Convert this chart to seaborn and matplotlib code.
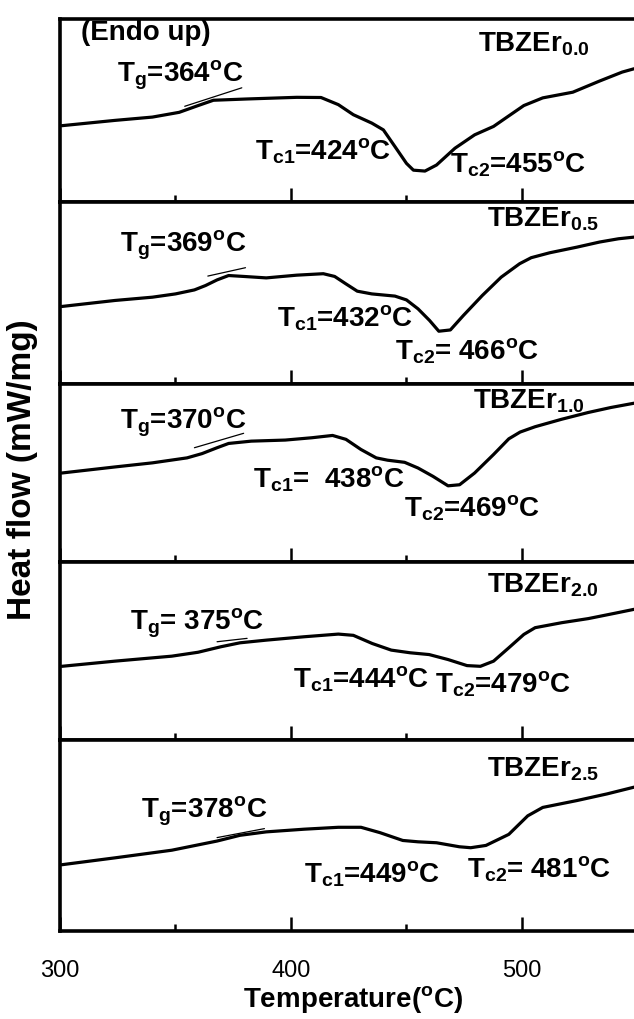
import numpy as np
import pandas as pd
import matplotlib
matplotlib.use("Agg")
import matplotlib.pyplot as plt
import seaborn as sns
from matplotlib.ticker import MultipleLocator

# ---------------- data ----------------
samples = ["0.0", "0.5", "1.0", "2.0", "2.5"]

temp_00 = [300.8, 323.8, 340, 351.6, 359.8, 366.4, 381, 402.5, 413, 420.5, 427, 435, 440, 445, 450, 453, 458, 463, 471, 479.5, 487.7, 494, 500.8, 509, 522, 533.6, 543.4, 548.5]
hf_00 = [41.7, 44.6, 46.4, 49.0, 52.7, 55.6, 56.3, 57.2, 57.1, 53.2, 47.7, 43.1, 39.4, 30.3, 21.1, 17.4, 16.9, 20.2, 29.4, 36.7, 41.3, 46.8, 52.7, 56.9, 60.0, 66.1, 71.0, 72.8]

temp_05 = [300.8, 323.8, 340, 350, 358.2, 363, 368, 373, 379.5, 389.3, 402.5, 414, 418.9, 423.8, 428.7, 435, 445, 450, 455, 460, 464, 469, 474.6, 482.8, 491, 499, 504, 512, 523.8, 533.6, 541.8, 548.5]
hf_05 = [42.6, 45.9, 47.7, 49.5, 51.7, 54.1, 57.2, 59.6, 59.1, 58.3, 59.8, 60.6, 59.1, 55.0, 51.0, 49.5, 48.3, 46.2, 41.3, 34.9, 29.0, 29.7, 37.6, 48.6, 58.7, 66.1, 69.4, 72.1, 75.2, 78.0, 79.8, 80.7]

temp_10 = [300.8, 323.8, 340, 355, 361.5, 368, 373, 382.8, 397.5, 409, 418, 423.8, 430.3, 436.9, 441.8, 449.2, 455, 461.5, 468, 473, 479.5, 487.7, 494.3, 499.2, 505.7, 517.2, 528.7, 538.5, 548.5]
hf_10 = [50.0, 53.4, 55.7, 58.5, 60.9, 64.2, 66.6, 67.9, 68.5, 69.8, 71.1, 68.9, 63.2, 58.5, 57.2, 56.0, 52.8, 48.1, 42.8, 43.4, 50.0, 60.4, 69.2, 73.0, 76.0, 80.2, 84.0, 86.8, 89.2]

temp_20 = [300.8, 323.8, 348.4, 359.8, 369.7, 377.9, 389.3, 405.7, 420.5, 427, 435.2, 443.4, 451.6, 459.8, 468, 476.2, 482, 487.7, 494.3, 500.8, 505.7, 517.2, 528.7, 540.2, 548.5]
hf_20 = [41.4, 44.3, 47.1, 49.3, 52.4, 54.6, 56.1, 58.0, 59.5, 58.8, 54.2, 50.5, 49.0, 48.0, 45.2, 41.8, 41.4, 44.3, 51.8, 59.3, 63.1, 65.9, 68.2, 71.2, 73.4]

temp_25 = [300.8, 323.8, 348.4, 368, 377.9, 389.3, 405.7, 420.5, 430.3, 438.5, 448.4, 455, 463, 472.9, 477.8, 484.4, 494.3, 502.5, 509, 523.8, 536.9, 548.5]
hf_25 = [34.7, 38.3, 42.3, 47.1, 50.1, 51.9, 53.3, 54.3, 54.3, 51.5, 47.4, 46.7, 46.2, 44.1, 43.6, 44.8, 50.6, 60.3, 64.7, 68.3, 71.8, 75.3]

# Tg tangent construction lines (two points each)
tan_t = [[354, 378.7], [364, 380.3], [358.2, 379.5], [368, 381], [368, 388.5]]
tan_h = [[52.3, 62.4], [59.3, 63.9], [64.2, 72.3], [55.2, 57.1], [48.9, 53.6]]

tg_vals = ["364", "369", "370", " 375", "378"]
tc1_vals = ["424", "432", "  438", "444", "449"]
tc2_vals = ["455", " 466", "469", "479", " 481"]

temps = [temp_00, temp_05, temp_10, temp_20, temp_25]
hfs = [hf_00, hf_05, hf_10, hf_20, hf_25]

# ---------------- style ----------------
sns.set_style("white")
plt.rcParams["font.family"] = ["Liberation Sans", "DejaVu Sans"]
plt.rcParams["mathtext.default"] = "regular"
plt.rcParams["text.color"] = "black"
plt.rcParams["axes.labelcolor"] = "black"
plt.rcParams["xtick.color"] = "black"

fig = plt.figure(figsize=(6.34, 10.2), dpi=100)
W, H = 634.0, 1020.0
tops = [20, 203, 385, 563, 741]
bots = [203, 385, 563, 741, 932]
left_px = 60

# label positions (temperature, relative height) per panel
name_pos = [(481, 87), (485, 90.8), (478.7, 90.6), (485, 87.6), (485, 85)]
tg_pos = [(324.6, 69.7), (326, 77), (326, 79), (330.3, 65.9), (335.2, 63)]
tc1_pos = [(384.4, 28.4), (394, 36.7), (383.6, 47.2), (400.8, 34.8), (405.7, 30.3)]
tc2_pos = [(468.9, 21.1), (445, 18.3), (449, 31), (462.3, 32), (476.2, 33)]

fs = 20
axes = []
for i in range(5):
    ax = fig.add_axes([left_px / W, 1 - bots[i] / H, (W - left_px) / W, (bots[i] - tops[i]) / H])
    axes.append(ax)
    df = pd.DataFrame({"T": temps[i], "HF": hfs[i]})
    sns.lineplot(data=df, x="T", y="HF", ax=ax, color="black", lw=2.3)
    ax.plot(tan_t[i], tan_h[i], color="black", lw=0.9)
    ax.set_xlim(300, 548.5)
    ax.set_ylim(0, 100)
    ax.set_xlabel("")
    ax.set_ylabel("")
    ax.set_yticks([])
    ax.xaxis.set_major_locator(MultipleLocator(100))
    ax.xaxis.set_minor_locator(MultipleLocator(50))
    ax.tick_params(axis="x", which="major", direction="in", length=10, width=1.8,
                   bottom=True, top=False, labelsize=17, pad=20, colors="black")
    ax.tick_params(axis="x", which="minor", direction="in", length=5, width=1.8,
                   bottom=True, top=False)
    for s in ["left", "top", "bottom"]:
        ax.spines[s].set_linewidth(2.6)
        ax.spines[s].set_color("black")
    ax.spines["right"].set_visible(False)
    if i < 4:
        ax.tick_params(axis="x", labelbottom=False)

    kw = dict(fontsize=fs, fontweight="bold", va="center", ha="left", color="black")
    nx, ny = name_pos[i]
    ax.text(nx, ny, "TBZEr$_{%s}$" % samples[i], **kw)
    x, y = tg_pos[i]
    ax.text(x, y, "T$_{g}$=%s$^{o}$C" % tg_vals[i], **kw)
    x, y = tc1_pos[i]
    ax.text(x, y, "T$_{c1}$=%s$^{o}$C" % tc1_vals[i], **kw)
    x, y = tc2_pos[i]
    ax.text(x, y, "T$_{c2}$=%s$^{o}$C" % tc2_vals[i], **kw)

axes[0].text(309, 92.7, "(Endo up)", fontsize=fs, fontweight="bold", va="center", ha="left",
             color="black")

for lab in axes[-1].get_xticklabels():
    lab.set_fontweight("normal")

fig.text(353 / W, 1 - 1000 / H, "Temperature($^{o}$C)", fontsize=20, fontweight="bold",
         ha="center", va="center", color="black")
fig.text(23 / W, 1 - 470 / H, "Heat flow (mW/mg)", fontsize=24, fontweight="bold",
         ha="center", va="center", rotation=90, color="black")

fig.savefig("out.png", dpi=100)
